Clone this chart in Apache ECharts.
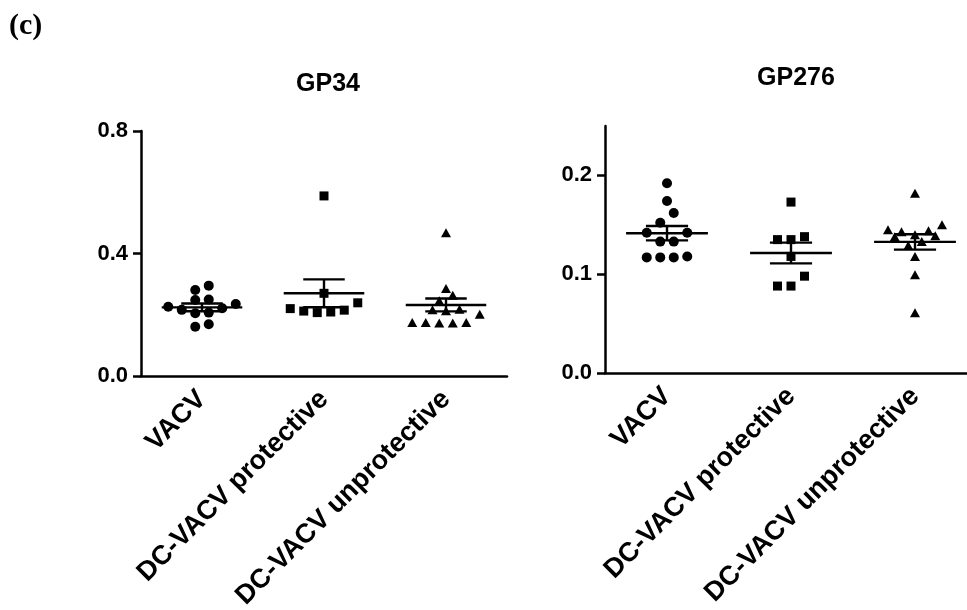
<!DOCTYPE html>
<html><head><meta charset="utf-8">
<script src="https://cdn.jsdelivr.net/npm/echarts@6/dist/echarts.min.js"></script>
<style>html,body{margin:0;padding:0;background:#fff}#c{width:967px;height:610px}</style>
</head><body><div id="c"></div>
<script>
// ---------- data ----------
const categories = ['VACV', 'DC-VACV protective', 'DC-VACV unprotective'];

const gp34Vacv = [0.295, 0.281, 0.250, 0.248, 0.235, 0.226, 0.221, 0.216, 0.207, 0.205, 0.169, 0.161];
const gp34Protective = [0.588, 0.270, 0.239, 0.220, 0.215, 0.212, 0.209, 0.207];
const gp34Unprotective = [0.468, 0.286, 0.264, 0.246, 0.218, 0.216, 0.213, 0.202, 0.175, 0.175, 0.175, 0.173, 0.173];
const gp34Mean = [0.224, 0.270, 0.232];
const gp34Sem = [0.0125, 0.0455, 0.021];
const gp34Ticks = [0, 0.4, 0.8];

const gp276Vacv = [0.192, 0.174, 0.162, 0.152, 0.142, 0.142, 0.133, 0.133, 0.118, 0.117, 0.117, 0.117];
const gp276Protective = [0.173, 0.138, 0.135, 0.135, 0.118, 0.098, 0.088, 0.088];
const gp276Unprotective = [0.182, 0.150, 0.145, 0.144, 0.143, 0.140, 0.139, 0.138, 0.133, 0.129, 0.118, 0.0995, 0.061];
const gp276Mean = [0.1415, 0.1215, 0.1327];
const gp276Sem = [0.0073, 0.0105, 0.0078];
const gp276Ticks = [0, 0.1, 0.2];

// ---------- layout / style ----------
const FONT = "'Liberation Sans', Arial, Helvetica, sans-serif";
const panels = [
  {title: 'GP34', titleX: 323, titleY: 67, left: 141, top: 131, width: 366, height: 245, max: 0.8,
   groups: [gp34Vacv, gp34Protective, gp34Unprotective], mean: gp34Mean, sem: gp34Sem, ticks: gp34Ticks},
  {title: 'GP276', titleX: 791, titleY: 61, left: 605, top: 126, width: 372, height: 247, max: 0.25,
   groups: [gp276Vacv, gp276Protective, gp276Unprotective], mean: gp276Mean, sem: gp276Sem, ticks: gp276Ticks}
];
const symbols = ['circle', 'rect', 'triangle'];
const symbolSizes = [10, 9, [10, 9]];

// GraphPad-like scatter layout: rows of near-equal values (grouped from the bottom up),
// spread symmetrically; the lowest value of a row sits in the middle.
function swarm(values, pxPerUnit) {
  const order = values.map((v, i) => i).sort((a, b) => values[a] - values[b]);
  const S = 13.5, TOL = 10;
  const out = new Array(values.length);
  let i = 0;
  while (i < order.length) {
    const y0 = values[order[i]] * pxPerUnit;
    const row = [order[i]]; i++;
    while (i < order.length && values[order[i]] * pxPerUnit - y0 <= TOL) { row.push(order[i]); i++; }
    const n = row.length;
    const pos = [];
    for (let k = 0; k < n; k++) pos.push((k - (n - 1) / 2) * S);
    pos.sort((a, b) => (Math.abs(a) - Math.abs(b)) || (a - b));
    row.forEach((id, k) => { out[id] = pos[k]; });
  }
  return out;
}

function meanSemRender(params, api) {
  const c = api.value(0), m = api.value(1), s = api.value(2);
  const pm = api.coord([c, m]), pt = api.coord([c, m + s]), pb = api.coord([c, m - s]);
  const bw = api.size([1, 0])[0];
  const hw = bw * 0.33, cw = bw * 0.17;
  const st = {stroke: '#000', lineWidth: 2.4};
  return {type: 'group', children: [
    {type: 'line', shape: {x1: pm[0] - hw, y1: pm[1], x2: pm[0] + hw, y2: pm[1]}, style: st},
    {type: 'line', shape: {x1: pt[0] - cw, y1: pt[1], x2: pt[0] + cw, y2: pt[1]}, style: st},
    {type: 'line', shape: {x1: pb[0] - cw, y1: pb[1], x2: pb[0] + cw, y2: pb[1]}, style: st},
    {type: 'line', shape: {x1: pt[0], y1: pt[1], x2: pb[0], y2: pb[1]}, style: st}
  ]};
}

const grid = [], xAxis = [], yAxis = [], series = [], title = [];
title.push({text: '(c)', left: 4, top: 6,
  textStyle: {fontFamily: "'Liberation Serif', 'Times New Roman', serif", fontWeight: 'bold', fontSize: 30, color: '#000'}});

panels.forEach((p, gi) => {
  title.push({text: p.title, left: p.titleX, top: p.titleY, textAlign: 'center',
    textStyle: {fontFamily: FONT, fontWeight: 'bold', fontSize: 25, color: '#000'}});
  grid.push({left: p.left, top: p.top, width: p.width, height: p.height, containLabel: false, outerBoundsMode: 'none'});
  xAxis.push({type: 'category', gridIndex: gi, data: categories, boundaryGap: true,
    axisLine: {lineStyle: {color: '#000', width: 2.5}},
    axisTick: {alignWithLabel: true, length: 8, lineStyle: {color: '#000', width: 2.5}},
    axisLabel: {rotate: 45, interval: 0, margin: 19, color: '#000', fontFamily: FONT, fontWeight: 'bold', fontSize: 27},
    splitLine: {show: false}});
  yAxis.push({type: 'value', gridIndex: gi, min: 0, max: p.max,
    axisLine: {show: true, lineStyle: {color: '#000', width: 2.5}},
    axisTick: {show: true, length: 8, customValues: p.ticks, lineStyle: {color: '#000', width: 2.5}},
    axisLabel: {customValues: p.ticks, margin: 13, color: '#000', fontFamily: FONT, fontWeight: 'bold', fontSize: 22,
      formatter: v => v.toFixed(1)},
    splitLine: {show: false}});
  const pxPerUnit = p.height / p.max;
  p.groups.forEach((vals, ci) => {
    const dx = swarm(vals, pxPerUnit);
    series.push({type: 'scatter', xAxisIndex: gi, yAxisIndex: gi, symbol: symbols[ci], symbolSize: symbolSizes[ci],
      itemStyle: {color: '#000', opacity: 1}, silent: true, z: 2,
      data: vals.map((v, i) => ({value: [ci, v], symbolOffset: [dx[i], 0]}))});
  });
  series.push({type: 'custom', xAxisIndex: gi, yAxisIndex: gi, renderItem: meanSemRender, z: 3, silent: true,
    data: p.mean.map((m, ci) => [ci, m, p.sem[ci]])});
});

const chart = echarts.init(document.getElementById('c'), null, {renderer: 'canvas'});
chart.setOption({backgroundColor: '#fff', animation: false, title, grid, xAxis, yAxis, series});
</script></body></html>
